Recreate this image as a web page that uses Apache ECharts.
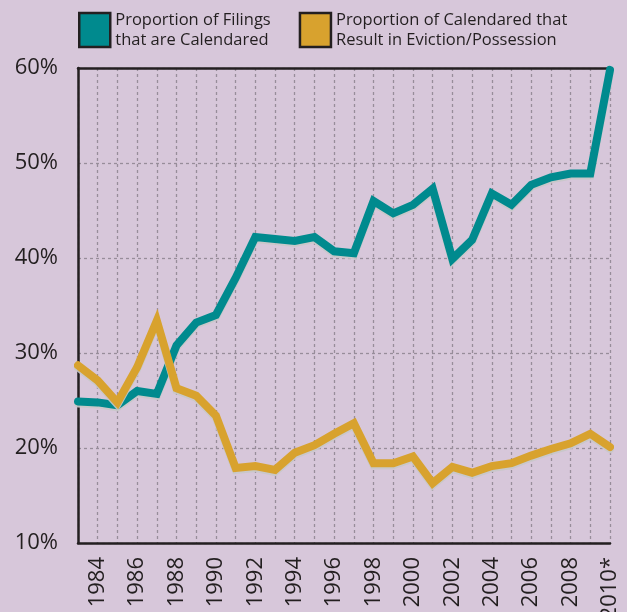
<!DOCTYPE html>
<html>
<head>
<meta charset="utf-8">
<script src="https://cdn.jsdelivr.net/npm/echarts@6/dist/echarts.min.js"></script>
<style>
html,body{margin:0;padding:0;background:#D7C7DA;}
#chart{width:627px;height:612px;}
</style>
</head>
<body>
<div id="chart"></div>
<script>
var years = ['1983','1984','1985','1986','1987','1988','1989','1990','1991','1992','1993','1994','1995','1996','1997','1998','1999','2000','2001','2002','2003','2004','2005','2006','2007','2008','2009','2010*'];
var calendaredShare = [24.9,24.8,24.5,26.0,25.7,30.8,33.2,34.0,37.9,42.2,42.0,41.8,42.2,40.7,40.5,46.0,44.7,45.6,47.3,39.9,41.9,46.8,45.6,47.7,48.5,48.9,48.9,59.8];
var evictionShare = [28.7,27.1,24.8,28.5,33.4,26.3,25.5,23.4,17.9,18.1,17.7,19.5,20.3,21.5,22.6,18.4,18.4,19.1,16.3,18.0,17.4,18.1,18.4,19.2,19.9,20.5,21.5,20.1];
var seriesNames = ['Proportion of Filings\nthat are Calendared','Proportion of Calendared that\nResult in Eviction/Possession'];
var yTicks = [10,20,30,40,50,60];

var dark = '#231F20';
var font = 'Open Sans';
var chart = echarts.init(document.getElementById('chart'));
chart.setOption({
  backgroundColor: '#D7C7DA',
  animation: false,
  textStyle: {fontFamily: font},
  legend: {
    left: 78, top: 10, padding: 0,
    itemWidth: 31, itemHeight: 34, itemGap: 28, itemTextGap: 6,
    icon: 'rect',
    textStyle: {fontSize: 16.5, lineHeight: 20, color: dark, fontFamily: font},
    itemStyle: {borderColor: dark, borderWidth: 2.5},
    data: [
      {name: seriesNames[0], itemStyle: {color: '#008A8E', borderColor: dark, borderWidth: 2.5}},
      {name: seriesNames[1], itemStyle: {color: '#D8A22E', borderColor: dark, borderWidth: 2.5}}
    ]
  },
  grid: {left: 78, top: 68, right: 17, bottom: 69, containLabel: false, outerBoundsMode: 'none'},
  xAxis: [{
    type: 'category', data: years, boundaryGap: false,
    axisLine: {lineStyle: {color: dark, width: 2.5}},
    axisTick: {show: false},
    axisLabel: {
      rotate: 90, fontSize: 22, color: dark, margin: 14,
      interval: function (i) { return i % 2 === 1; }
    },
    splitLine: {show: true, interval: 0, lineStyle: {color: '#978D9A', width: 1.3, type: [3, 3]}}
  }, {
    type: 'category', data: years, boundaryGap: false, position: 'top',
    axisLine: {lineStyle: {color: dark, width: 2.5}},
    axisTick: {show: false}, axisLabel: {show: false}, splitLine: {show: false}
  }],
  yAxis: {
    type: 'value', min: yTicks[0], max: yTicks[yTicks.length - 1], interval: 10,
    axisLine: {show: true, lineStyle: {color: dark, width: 2.5}},
    axisTick: {show: false},
    axisLabel: {formatter: '{value}%', fontSize: 22, color: dark, margin: 20},
    splitLine: {lineStyle: {color: '#978D9A', width: 1.3, type: [3, 3]}}
  },
  series: [{
    name: seriesNames[0], type: 'line', data: calendaredShare, showSymbol: false,
    lineStyle: {color: '#008A8E', width: 8, shadowColor: 'rgba(200,200,200,0.9)', shadowOffsetY: 2, cap: 'round', join: 'miter'},
    itemStyle: {color: '#008A8E'}
  }, {
    name: seriesNames[1], type: 'line', data: evictionShare, showSymbol: false,
    lineStyle: {color: '#D8A22E', width: 8, shadowColor: 'rgba(200,200,200,0.9)', shadowOffsetY: 2, cap: 'round', join: 'miter'},
    itemStyle: {color: '#D8A22E'}
  }]
});
</script>
</body>
</html>
